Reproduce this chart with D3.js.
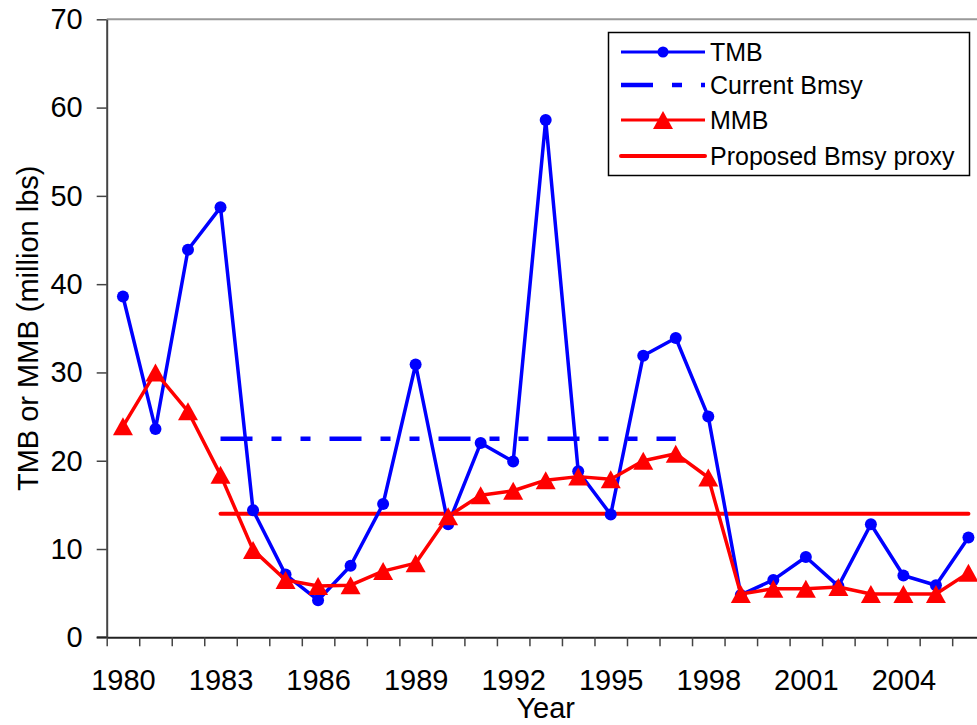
<!DOCTYPE html>
<html>
<head>
<meta charset="utf-8">
<script src="https://cdn.jsdelivr.net/npm/d3@7"></script>
<style>
  html, body { margin: 0; padding: 0; background: #fff; }
  svg { display: block; font-family: Arial, "Liberation Sans", sans-serif; }
</style>
</head>
<body>
<svg id="chart" width="977" height="725"></svg>
<script>
// Survey years
const years = [1980, 1981, 1982, 1983, 1984, 1985, 1986, 1987, 1988, 1989,
               1990, 1991, 1992, 1993, 1994, 1995, 1996, 1997, 1998, 1999,
               2000, 2001, 2002, 2003, 2004, 2005, 2006];

// Total mature biomass (million lbs)
const tmb = [38.6, 23.6, 43.9, 48.7, 14.4, 7.1, 4.2, 8.1, 15.1, 30.9,
             12.8, 22.0, 19.9, 58.6, 18.8, 13.9, 31.9, 33.9, 25.0, 4.8,
             6.5, 9.1, 5.8, 12.8, 7.0, 5.9, 11.3];

// Mature male biomass (million lbs)
const mmb = [23.9, 30.0, 25.6, 18.4, 9.9, 6.5, 5.8, 5.9, 7.5, 8.4,
             13.7, 16.1, 16.6, 17.8, 18.2, 17.9, 20.0, 20.8, 18.1, 4.9,
             5.5, 5.5, 5.7, 4.9, 4.9, 4.9, 7.3];

// Reference levels: [first year, last year] and value
const currentBmsyYears = [1983, 1997];
const currentBmsyValue = 22.5;
const proxyYears = [1983, 2006];
const proxyValue = 14.0;

// Axis labels
const yearTickLabels = [1980, 1983, 1986, 1989, 1992, 1995, 1998, 2001, 2004];
const yTicks = [0, 10, 20, 30, 40, 50, 60, 70];

const legendItems = [
  { label: "TMB", kind: "tmb" },
  { label: "Current Bmsy", kind: "current" },
  { label: "MMB", kind: "mmb" },
  { label: "Proposed Bmsy proxy", kind: "proxy" }
];

const BLUE = "#0000FF", RED = "#FF0000";
const svg = d3.select("#chart");

const plot = { left: 106.7, right: 984.7, top: 19.3, bottom: 637.3 };
const x = d3.scaleLinear().domain([years[0] - 0.5, years[years.length - 1] + 0.5])
  .range([plot.left, plot.right]);
const y = d3.scaleLinear().domain([0, 70]).range([plot.bottom, plot.top]);

// plot area border (top and right)
svg.append("path")
  .attr("d", `M${plot.left},${plot.top}H${plot.right}V${plot.bottom}`)
  .attr("fill", "none").attr("stroke", "#999").attr("stroke-width", 2);

// y axis
const yAxis = svg.append("g").attr("transform", `translate(${plot.left},0)`)
  .call(d3.axisLeft(y).tickValues(yTicks).tickSize(10).tickPadding(14).tickSizeOuter(0));
yAxis.select(".domain").attr("stroke", "#444").attr("stroke-width", 2);
yAxis.selectAll(".tick line").attr("stroke", "#444").attr("stroke-width", 1.5);
yAxis.selectAll(".tick text").attr("font-size", 29).attr("fill", "#000")
  .attr("font-family", "Arial, 'Liberation Sans', sans-serif");

// x axis: ticks at category boundaries
const boundaries = years.map(v => v - 0.5).concat([years[years.length - 1] + 0.5]);
const xAxis = svg.append("g").attr("transform", `translate(0,${plot.bottom})`)
  .call(d3.axisBottom(x).tickValues(boundaries).tickSize(9).tickFormat("").tickSizeOuter(0));
xAxis.select(".domain").attr("stroke", "#222").attr("stroke-width", 2);
xAxis.selectAll(".tick line").attr("stroke", "#444").attr("stroke-width", 1.5);

// extend x axis line to the left tick
svg.append("line").attr("x1", plot.left - 10).attr("x2", plot.left)
  .attr("y1", plot.bottom).attr("y2", plot.bottom)
  .attr("stroke", "#222").attr("stroke-width", 2);

const xLabels = svg.append("g").attr("transform", `translate(0,${plot.bottom})`)
  .call(d3.axisBottom(x).tickValues(yearTickLabels).tickSize(0).tickPadding(32)
    .tickFormat(d3.format("d")));
xLabels.select(".domain").remove();
xLabels.selectAll(".tick text").attr("font-size", 29).attr("fill", "#000")
  .attr("font-family", "Arial, 'Liberation Sans', sans-serif");

// axis titles
svg.append("text").attr("x", (plot.left + plot.right) / 2).attr("y", 718)
  .attr("text-anchor", "middle").attr("font-size", 29).text("Year");
svg.append("text")
  .attr("transform", `translate(38,${(plot.top + plot.bottom) / 2}) rotate(-90)`)
  .attr("text-anchor", "middle").attr("font-size", 29).text("TMB or MMB (million lbs)");

const dashPattern = "32,19,10,19,10,19";
const triPath = "M0,-9L10,9L-10,9Z";

// proposed Bmsy proxy
svg.append("line")
  .attr("x1", x(proxyYears[0])).attr("x2", x(proxyYears[1]))
  .attr("y1", y(proxyValue)).attr("y2", y(proxyValue))
  .attr("stroke", RED).attr("stroke-width", 4).attr("stroke-linecap", "round");

// current Bmsy
svg.append("line")
  .attr("x1", x(currentBmsyYears[0])).attr("x2", x(currentBmsyYears[1]))
  .attr("y1", y(currentBmsyValue)).attr("y2", y(currentBmsyValue))
  .attr("stroke", BLUE).attr("stroke-width", 4.5).attr("stroke-dasharray", dashPattern);

const line = d3.line().x(d => x(d[0])).y(d => y(d[1]));

// TMB series
const tmbPts = years.map((yr, i) => [yr, tmb[i]]);
svg.append("path").attr("d", line(tmbPts)).attr("fill", "none")
  .attr("stroke", BLUE).attr("stroke-width", 3.5).attr("stroke-linejoin", "round");
svg.append("g").selectAll("circle").data(tmbPts).join("circle")
  .attr("cx", d => x(d[0])).attr("cy", d => y(d[1])).attr("r", 6).attr("fill", BLUE);

// MMB series
const mmbPts = years.map((yr, i) => [yr, mmb[i]]);
svg.append("path").attr("d", line(mmbPts)).attr("fill", "none")
  .attr("stroke", RED).attr("stroke-width", 3.5).attr("stroke-linejoin", "round");
svg.append("g").selectAll("path").data(mmbPts).join("path")
  .attr("d", triPath)
  .attr("transform", d => `translate(${x(d[0])},${y(d[1])})`)
  .attr("fill", RED);

// legend
const lg = svg.append("g");
lg.append("rect").attr("x", 608.5).attr("y", 32.5).attr("width", 361).attr("height", 143)
  .attr("fill", "#fff").attr("stroke", "#000").attr("stroke-width", 1.5);
const rowY = [52, 85, 120, 156];
const sx0 = 621, sx1 = 705;
legendItems.forEach((it, i) => {
  const cy = rowY[i];
  const g = lg.append("g");
  if (it.kind === "tmb") {
    g.append("line").attr("x1", sx0).attr("x2", sx1).attr("y1", cy).attr("y2", cy)
      .attr("stroke", BLUE).attr("stroke-width", 3);
    g.append("circle").attr("cx", (sx0 + sx1) / 2).attr("cy", cy).attr("r", 5.5).attr("fill", BLUE);
  } else if (it.kind === "current") {
    g.append("line").attr("x1", sx0).attr("x2", sx1).attr("y1", cy).attr("y2", cy)
      .attr("stroke", BLUE).attr("stroke-width", 4.5).attr("stroke-dasharray", dashPattern);
  } else if (it.kind === "mmb") {
    g.append("line").attr("x1", sx0).attr("x2", sx1).attr("y1", cy).attr("y2", cy)
      .attr("stroke", RED).attr("stroke-width", 3);
    g.append("path").attr("d", triPath)
      .attr("transform", `translate(${(sx0 + sx1) / 2},${cy})`).attr("fill", RED);
  } else {
    g.append("line").attr("x1", sx0).attr("x2", sx1).attr("y1", cy).attr("y2", cy)
      .attr("stroke", RED).attr("stroke-width", 4).attr("stroke-linecap", "round");
  }
  g.append("text").attr("x", 710).attr("y", cy + 8.5).attr("font-size", 25)
    .attr("fill", "#000").text(it.label);
});
</script>
</body>
</html>
